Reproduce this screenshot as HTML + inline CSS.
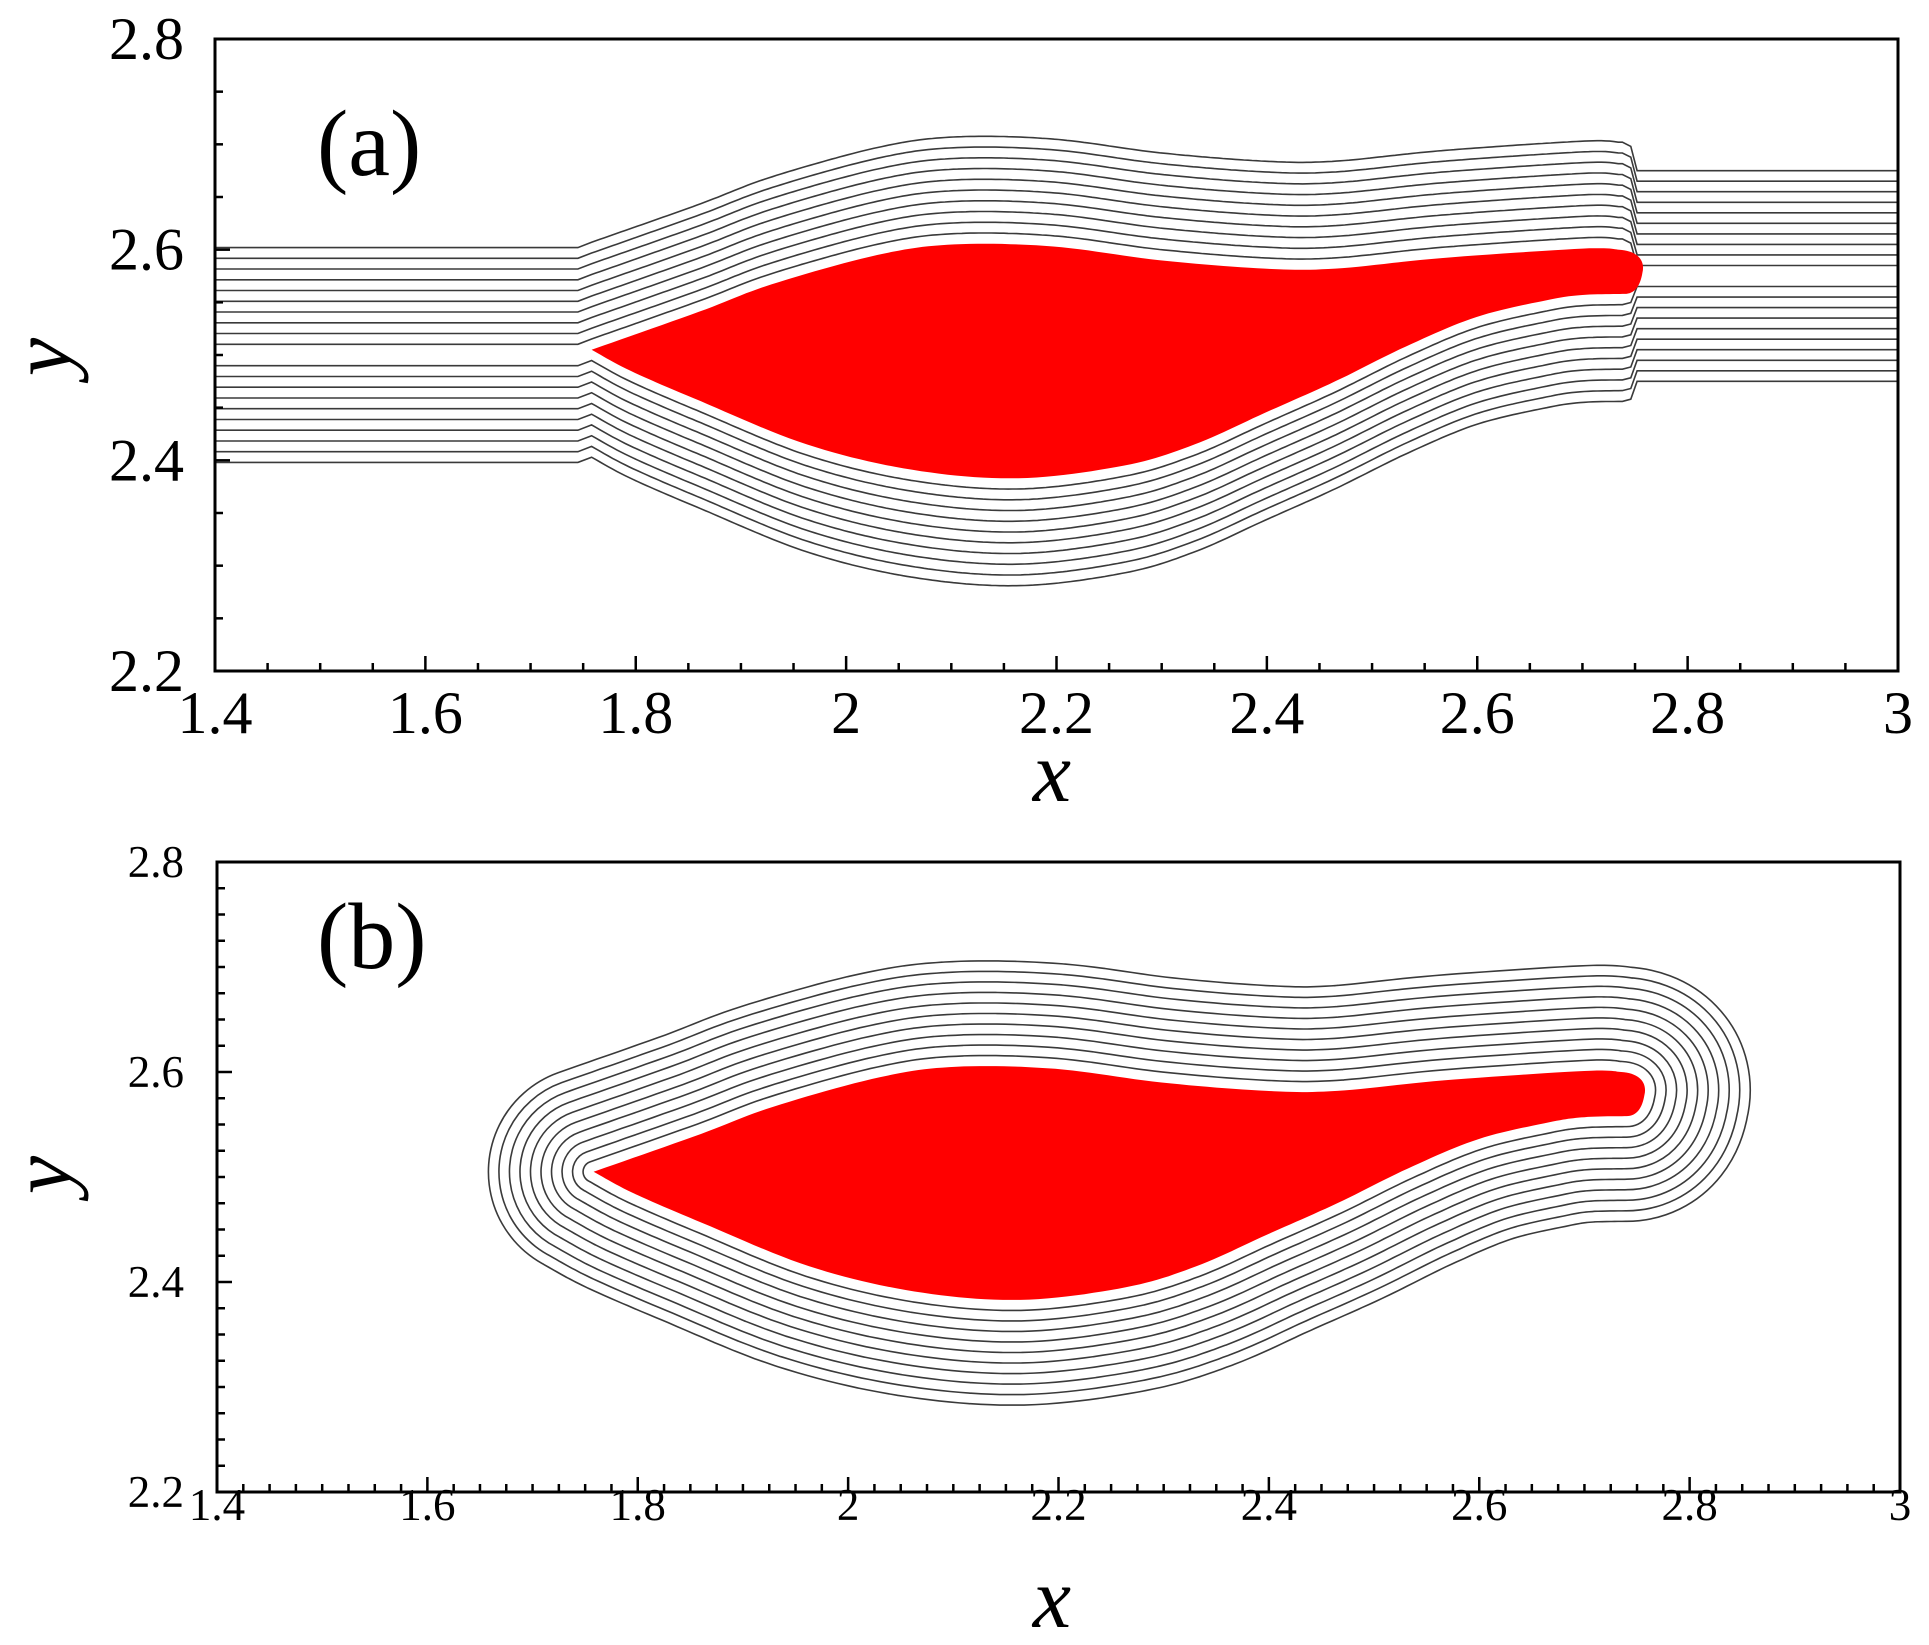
<!DOCTYPE html>
<html><head><meta charset="utf-8">
<style>
html,body{margin:0;padding:0;background:#fff;}
svg{display:block;}
text{font-family:"Liberation Serif",serif;fill:#000;}
</style></head>
<body>
<svg id="s" width="1929" height="1645" viewBox="0 0 1929 1645" xmlns="http://www.w3.org/2000/svg">
<defs>
<clipPath id="ca"><rect x="215" y="39" width="1683" height="632"/></clipPath>
<clipPath id="cb"><rect x="217" y="862" width="1683" height="630"/></clipPath>
</defs>
<g id="ga" clip-path="url(#ca)"></g>
<g id="gb" clip-path="url(#cb)"></g>
<g id="axes"></g>
<text x="317" y="175" font-size="94">(a)</text>
<text x="317" y="968" font-size="94">(b)</text>
<text x="1052" y="801" font-size="86" font-style="italic" text-anchor="middle">x</text>
<text x="1052" y="1627" font-size="86" font-style="italic" text-anchor="middle">x</text>
<text transform="translate(70,357) rotate(-90)" font-size="86" font-style="italic" text-anchor="middle">y</text>
<text transform="translate(70,1175) rotate(-90)" font-size="86" font-style="italic" text-anchor="middle">y</text>
</svg>
<script>
(function(){
var NS="http://www.w3.org/2000/svg";
function el(tag,attrs,parent,txt){var e=document.createElementNS(NS,tag);for(var k in attrs)e.setAttribute(k,attrs[k]);if(txt!==undefined)e.textContent=txt;parent.appendChild(e);return e;}
var PA={L:215,R:1898,T:39,B:671}, PB={L:217,R:1900,T:862,B:1492};
function X(x,p){return p.L+(x-1.4)*(p.R-p.L)/1.6;}
function Y(y,p){return p.B-(y-2.2)*(p.B-p.T)/0.6;}
function cat(pts,n){var out=[];for(var i=0;i<pts.length-1;i++){var p0=pts[Math.max(0,i-1)],p1=pts[i],p2=pts[i+1],p3=pts[Math.min(pts.length-1,i+2)];for(var j=0;j<n;j++){var t=j/n,t2=t*t,t3=t2*t;var f=function(a,b,c,d){return 0.5*((2*b)+(-a+c)*t+(2*a-5*b+4*c-d)*t2+(-a+3*b-3*c+d)*t3);};out.push([f(p0[0],p1[0],p2[0],p3[0]),f(p0[1],p1[1],p2[1],p3[1])]);}}out.push(pts[pts.length-1]);return out;}
var topS=[[1.758,2.505],[1.86,2.541],[1.929,2.567],[2.03,2.595],[2.103,2.605],[2.197,2.603],[2.298,2.590],[2.398,2.582],[2.465,2.582],[2.566,2.592],[2.70,2.601],[2.735,2.600]];
var botS=[[1.758,2.505],[1.795,2.485],[1.862,2.456],[1.963,2.415],[2.063,2.391],[2.164,2.383],[2.264,2.395],[2.331,2.415],[2.398,2.445],[2.465,2.475],[2.532,2.508],[2.599,2.536],[2.666,2.552],[2.70,2.557],[2.740,2.558]];
var TD=cat(topS,12), BD=cat(botS,12);
function interp(D,x){if(x<=D[0][0])return D[0][1];for(var i=0;i<D.length-1;i++){if(x>=D[i][0]&&x<=D[i+1][0]){var t=(x-D[i][0])/((D[i+1][0]-D[i][0])||1);return D[i][1]+t*(D[i+1][1]-D[i][1]);}}return D[D.length-1][1];}
function fmt(q,p){return X(q[0],p).toFixed(1)+","+Y(q[1],p).toFixed(1);}
function bodyPath(p){var d="M"+TD.map(function(q){return fmt(q,p);}).join(" L");
d+=" C"+X(2.752,p)+","+Y(2.599,p)+" "+X(2.760,p)+","+Y(2.590,p)+" "+X(2.757,p)+","+Y(2.578,p);
d+=" C"+X(2.755,p)+","+Y(2.566,p)+" "+X(2.750,p)+","+Y(2.558,p)+" "+X(2.740,p)+","+Y(2.558,p);
var br=BD.slice().reverse();d+=" L"+br.map(function(q){return fmt(q,p);}).join(" L")+" Z";return d;}
var ga=document.getElementById("ga");
for(var k=1;k<=10;k++){var d=0.0102*k;
 [1,-1].forEach(function(sgn){
  var pts=[[1.4,2.5+sgn*d],[1.745,2.5+sgn*d]];
  for(var x=1.758;x<=2.742;x+=0.004){pts.push([x,(sgn>0?interp(TD,x):interp(BD,x))+sgn*d]);}
  var endY=(sgn>0?2.600:2.558)+sgn*d;
  pts.push([2.746,endY+(sgn>0?-0.004:0.002)]);
  pts.push([2.752,2.575+sgn*0.01*k]);
  pts.push([3.0,2.575+sgn*0.01*k]);
  el("path",{d:"M"+pts.map(function(q){return fmt(q,PA);}).join(" L"),fill:"none",stroke:"#3a3a3a","stroke-width":"1.6"},ga);
 });}
el("path",{d:bodyPath(PA),fill:"#ff0000",stroke:"none"},ga);
var gb=document.getElementById("gb");var sb=(PB.R-PB.L)/1.6;var bp=bodyPath(PB);
for(var k2=10;k2>=1;k2--){var w=2*0.01*k2*sb;
 el("path",{d:bp,fill:"none",stroke:"#3a3a3a","stroke-width":(w+1.6).toFixed(2),"stroke-linejoin":"round"},gb);
 el("path",{d:bp,fill:"none",stroke:"#fff","stroke-width":(w-1.6).toFixed(2),"stroke-linejoin":"round"},gb);}
el("path",{d:bp,fill:"#ff0000",stroke:"none"},gb);
var ax=document.getElementById("axes");
function axes(p,minorStep,fs,ylabX,xlabY){
 el("rect",{x:p.L,y:p.T,width:p.R-p.L,height:p.B-p.T,fill:"none",stroke:"#000","stroke-width":"3"},ax);
 var nX=Math.round(1.6/minorStep);
 for(var i=0;i<=nX;i++){var x=1.4+i*minorStep;var major=Math.abs(x*5-Math.round(x*5))<1e-6;var px=X(x,p);
  el("line",{x1:px,y1:p.B,x2:px,y2:p.B-(major?15:8),stroke:"#000","stroke-width":"2.5"},ax);
  if(major){var lab=(Math.round(x*10)/10).toString();el("text",{x:px,y:xlabY,"font-size":fs,"text-anchor":"middle","dominant-baseline":"central"},ax,lab);}}
 var nY=Math.round(0.6/minorStep);
 for(var j=0;j<=nY;j++){var y=2.2+j*minorStep;var maj=Math.abs(y*5-Math.round(y*5))<1e-6;var py=Y(y,p);
  el("line",{x1:p.L,y1:py,x2:p.L+(maj?15:8),y2:py,stroke:"#000","stroke-width":"2.5"},ax);
  if(maj){el("text",{x:ylabX,y:py,"font-size":fs,"text-anchor":"end","dominant-baseline":"central"},ax,(Math.round(y*10)/10).toFixed(1));}}
}
axes(PA,0.05,60,184,713);
axes(PB,0.025,45,184,1505);
})();
</script>
</body></html>
